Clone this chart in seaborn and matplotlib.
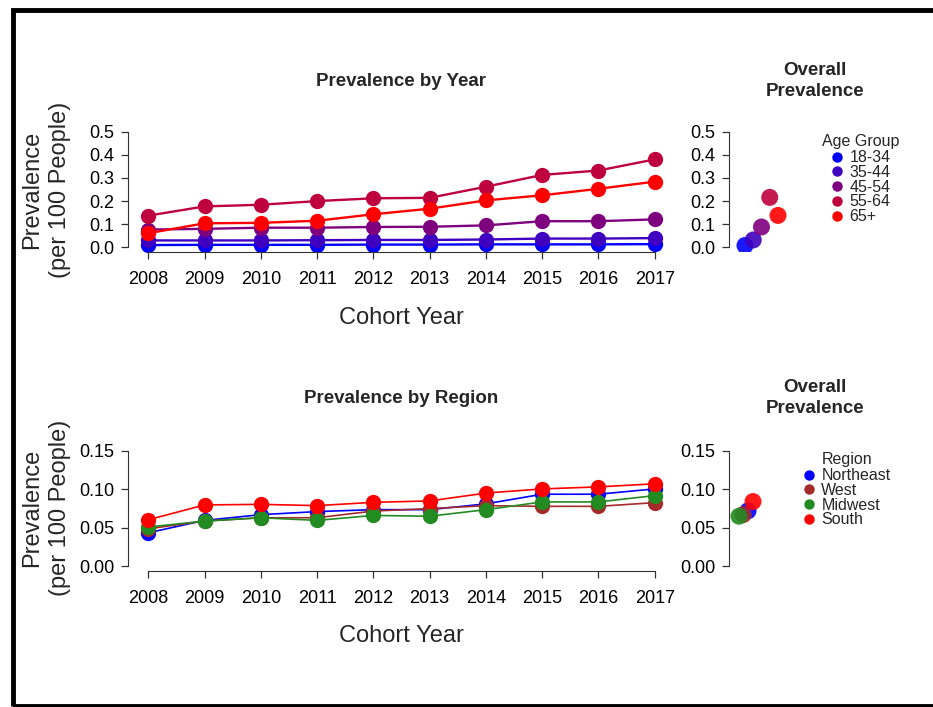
import numpy as np
import pandas as pd
import matplotlib
matplotlib.use('Agg')
import matplotlib.pyplot as plt
from matplotlib.lines import Line2D
from matplotlib.patches import Rectangle
import seaborn as sns

# ---------------------------------------------------------------------------
# Data
# ---------------------------------------------------------------------------
years = [2008, 2009, 2010, 2011, 2012, 2013, 2014, 2015, 2016, 2017]

age_groups = ['18-34', '35-44', '45-54', '55-64', '65+']
age_colors = ['#0000FF', '#3F00BF', '#7F007F', '#BF003F', '#FF0000']
prev_18_34 = [0.010, 0.011, 0.011, 0.011, 0.012, 0.012, 0.013, 0.013, 0.013, 0.014]
prev_35_44 = [0.030, 0.030, 0.030, 0.031, 0.032, 0.032, 0.034, 0.038, 0.038, 0.040]
prev_45_54 = [0.077, 0.080, 0.085, 0.085, 0.088, 0.089, 0.095, 0.113, 0.113, 0.121]
prev_55_64 = [0.137, 0.177, 0.184, 0.200, 0.212, 0.214, 0.262, 0.313, 0.332, 0.380]
prev_65 = [0.061, 0.104, 0.106, 0.115, 0.143, 0.167, 0.203, 0.225, 0.253, 0.284]
age_overall = [0.008, 0.032, 0.088, 0.216, 0.138]
age_overall_x = [1, 2, 3, 4, 5]

regions = ['Northeast', 'West', 'Midwest', 'South']
region_colors = ['#0000FF', '#A52A2A', '#228B22', '#FF0000']
prev_northeast = [0.0435, 0.0596, 0.0670, 0.0710, 0.0735, 0.0735, 0.0810, 0.0935, 0.0935, 0.1004]
prev_west = [0.0487, 0.0587, 0.0630, 0.0630, 0.0717, 0.0748, 0.0787, 0.0778, 0.0778, 0.0826]
prev_midwest = [0.0510, 0.0587, 0.0630, 0.0596, 0.0660, 0.0650, 0.0735, 0.0835, 0.0835, 0.0917]
prev_south = [0.0604, 0.0796, 0.0804, 0.0787, 0.0830, 0.0848, 0.0950, 0.1004, 0.1030, 0.1070]
region_overall = [0.072, 0.067, 0.065, 0.084]
region_overall_x = [2.1, 1.5, 1.0, 2.7]

age_df = pd.DataFrame({
    'year': years * 5,
    'prev': prev_18_34 + prev_35_44 + prev_45_54 + prev_55_64 + prev_65,
    'group': np.repeat(age_groups, len(years)),
})
age_all = pd.DataFrame({'x': age_overall_x, 'prev': age_overall, 'group': age_groups})

reg_df = pd.DataFrame({
    'year': years * 4,
    'prev': prev_northeast + prev_west + prev_midwest + prev_south,
    'group': np.repeat(regions, len(years)),
})
reg_all = pd.DataFrame({'x': region_overall_x, 'prev': region_overall, 'group': regions})

# ---------------------------------------------------------------------------
# Figure setup
# ---------------------------------------------------------------------------
sns.set_style('ticks')
plt.rcParams['font.family'] = ['Liberation Sans', 'DejaVu Sans']
plt.rcParams['axes.edgecolor'] = '#333333'
plt.rcParams['xtick.color'] = '#333333'
plt.rcParams['ytick.color'] = '#333333'
plt.rcParams['xtick.labelcolor'] = 'black'
plt.rcParams['ytick.labelcolor'] = 'black'

W, H = 933, 707
fig = plt.figure(figsize=(W / 100, H / 100), dpi=100)


def rect(l, t, r, b):
    return [l / W, 1 - b / H, (r - l) / W, (b - t) / H]


def fpos(x, y):
    return x / W, 1 - y / H


def style_axis(ax, ybounds, xbounds=None):
    sns.despine(ax=ax)
    ax.spines['left'].set_bounds(*ybounds)
    if xbounds is None:
        ax.spines['bottom'].set_visible(False)
        ax.set_xticks([])
    else:
        ax.spines['bottom'].set_bounds(*xbounds)
    ax.tick_params(length=5, width=0.9, labelsize=13, pad=5)
    ax.tick_params(axis='x', pad=9)
    ax.set_xlabel('')
    ax.set_ylabel('')
    ax.patch.set_alpha(0)


# ---------------------------------------------------------------------------
# Top row: age groups
# ---------------------------------------------------------------------------
ax1 = fig.add_axes(rect(128, 127, 675, 252))
sns.lineplot(data=age_df, x='year', y='prev', hue='group', hue_order=age_groups,
             palette=age_colors, marker='o', markersize=11, markeredgewidth=0,
             linewidth=1.7, legend=False, ax=ax1)
ax1.set_xlim(2007.64, 2017.36)
ax1.set_ylim(-0.02, 0.52)
ax1.set_xticks(years)
ax1.set_yticks([0.0, 0.1, 0.2, 0.3, 0.4, 0.5])
ax1.set_yticklabels(['0.0', '0.1', '0.2', '0.3', '0.4', '0.5'])
style_axis(ax1, (0, 0.5), (2008, 2017))

ax2 = fig.add_axes(rect(729, 127, 800, 252))
sns.scatterplot(data=age_all, x='x', y='prev', hue='group', hue_order=age_groups,
                palette=age_colors, s=150, linewidth=0, alpha=0.9, legend=False, ax=ax2)
ax2.set_xlim(-0.94, 7.67)
ax2.set_ylim(-0.02, 0.52)
ax2.set_yticks([0.0, 0.1, 0.2, 0.3, 0.4, 0.5])
ax2.set_yticklabels(['0.0', '0.1', '0.2', '0.3', '0.4', '0.5'])
style_axis(ax2, (0, 0.5))

# ---------------------------------------------------------------------------
# Bottom row: regions
# ---------------------------------------------------------------------------
ax3 = fig.add_axes(rect(128, 446, 675, 571))
sns.lineplot(data=reg_df, x='year', y='prev', hue='group', hue_order=regions,
             palette=region_colors, marker='o', markersize=11, markeredgewidth=0,
             linewidth=1.2, legend=False, ax=ax3)
ax3.set_xlim(2007.64, 2017.36)
ax3.set_ylim(-0.006, 0.156)
ax3.set_xticks(years)
ax3.set_yticks([0.0, 0.05, 0.10, 0.15])
ax3.set_yticklabels(['0.00', '0.05', '0.10', '0.15'])
style_axis(ax3, (0, 0.15), (2008, 2017))

ax4 = fig.add_axes(rect(729, 446, 800, 571))
sns.scatterplot(data=reg_all, x='x', y='prev', hue='group', hue_order=regions,
                palette=region_colors, s=150, linewidth=0, alpha=0.9, legend=False, ax=ax4)
ax4.set_xlim(-0.21, 8.4)
ax4.set_ylim(-0.006, 0.156)
ax4.set_yticks([0.0, 0.05, 0.10, 0.15])
ax4.set_yticklabels(['0.00', '0.05', '0.10', '0.15'])
style_axis(ax4, (0, 0.15))

# ---------------------------------------------------------------------------
# Text: titles, axis labels
# ---------------------------------------------------------------------------
fig.text(*fpos(401, 81), 'Prevalence by Year', ha='center', va='center',
         fontsize=13.5, fontweight='bold')
fig.text(*fpos(401, 399), 'Prevalence by Region', ha='center', va='center',
         fontsize=13.5, fontweight='bold')
for ty in (81, 398):
    fig.text(*fpos(815, ty), 'Overall\nPrevalence', ha='center', va='center',
             fontsize=13.5, fontweight='bold', linespacing=1.35)

for cy in (318, 636):
    fig.text(*fpos(401, cy), 'Cohort Year', ha='center', va='center', fontsize=17)

for cy in (190, 508):
    fig.text(*fpos(46, cy), 'Prevalence\n(per 100 People)', ha='center', va='center',
             rotation=90, fontsize=17, linespacing=1.35)

# ---------------------------------------------------------------------------
# Legends
# ---------------------------------------------------------------------------
def make_handles(colors):
    return [Line2D([], [], marker='o', ls='', color=c, markersize=7.5,
                   markeredgewidth=0) for c in colors]


leg1 = fig.legend(make_handles(age_colors), age_groups, title='Age Group',
                  loc='upper left', bbox_to_anchor=fpos(822, 134), frameon=False,
                  fontsize=11.5, title_fontsize=11.5, handlelength=0.8,
                  handletextpad=0.35, labelspacing=-0.02, borderpad=0,
                  borderaxespad=0)
leg2 = fig.legend(make_handles(region_colors), regions, title='Region',
                  loc='upper left', bbox_to_anchor=fpos(803, 452), frameon=False,
                  fontsize=11.5, title_fontsize=11.5, handlelength=0.8,
                  handletextpad=0.35, labelspacing=-0.02, borderpad=0,
                  borderaxespad=0)
for leg in (leg1, leg2):
    leg._legend_box.sep = 1

# outer frame
fig.add_artist(Rectangle(fpos(12.5, 705.5), (950 - 12.5) / W, (705.5 - 9.5) / H,
                         transform=fig.transFigure, fill=False,
                         edgecolor='black', linewidth=3.5, clip_on=False))

plt.savefig('out.png', dpi=100)
plt.close()
